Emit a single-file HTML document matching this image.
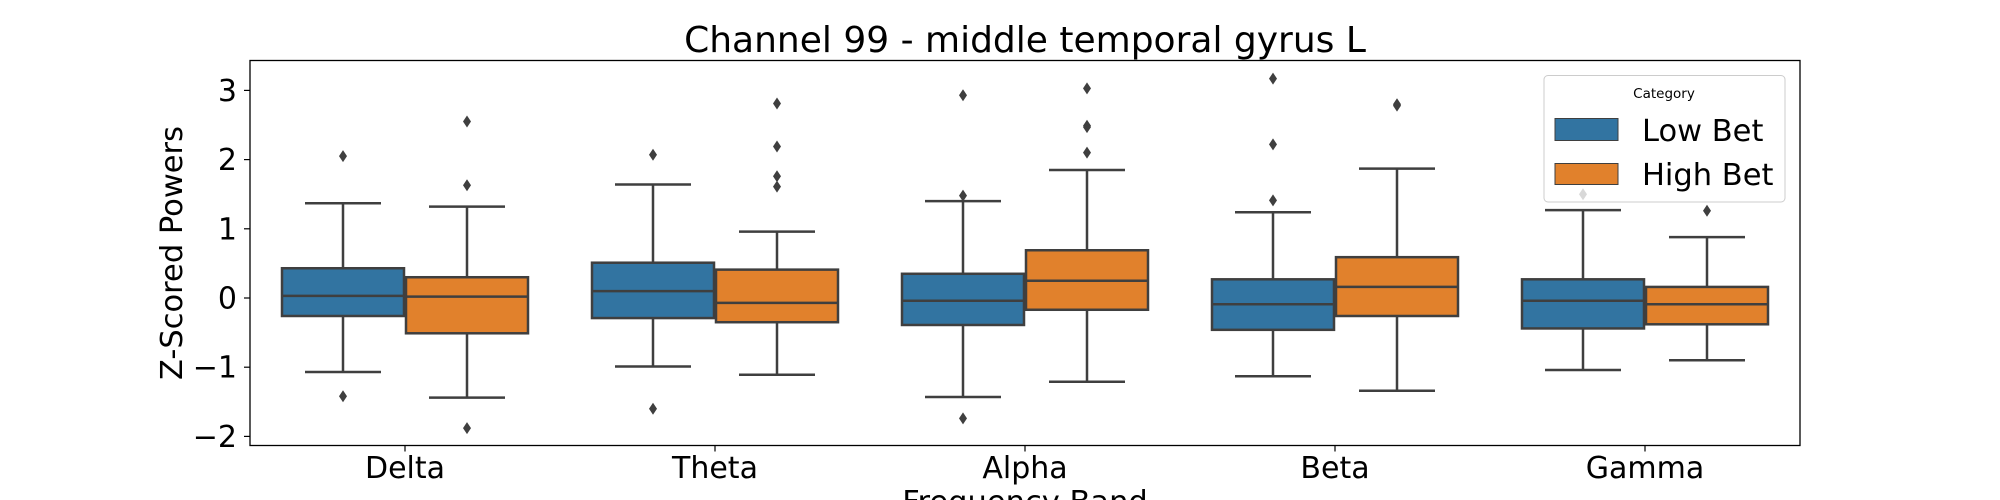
<!DOCTYPE html>
<html><head><meta charset="utf-8"><style>
html,body{margin:0;padding:0;background:#fff;}
svg{display:block;font-family:"DejaVu Sans","Liberation Sans",sans-serif;}
</style></head><body>
<svg id="chart" width="2000" height="500" viewBox="0 0 2000 500" xmlns="http://www.w3.org/2000/svg">
<rect width="2000" height="500" fill="#fff"/>
<text x="1025" y="52" font-size="36" text-anchor="middle" fill="#000">Channel 99 - middle temporal gyrus L</text>
<g id="plot"></g>
<rect x="250" y="60.5" width="1550" height="385" fill="none" stroke="#000" stroke-width="1.3"/>
<text transform="translate(182,253) rotate(-90)" font-size="30.5" text-anchor="middle" fill="#000">Z-Scored Powers</text>
<text x="1025" y="512" font-size="30.5" text-anchor="middle" fill="#000">Frequency Band</text>
<g>
<rect x="1544" y="75.5" width="241" height="126.5" rx="4" fill="#fff" fill-opacity="0.8" stroke="#ccc" stroke-width="1"/>
<text x="1664" y="98" font-size="13.5" text-anchor="middle" fill="#000">Category</text>
<rect x="1555" y="118.5" width="63" height="22" fill="#3274a1" stroke="#3f3f3f" stroke-width="1"/>
<text x="1642" y="141" font-size="30.5" fill="#000">Low Bet</text>
<rect x="1555" y="163.5" width="63" height="21" fill="#e1812c" stroke="#3f3f3f" stroke-width="1"/>
<text x="1642" y="185" font-size="30.5" fill="#000">High Bet</text>
</g>
</svg>
<script>
const categories = ["Delta","Theta","Alpha","Beta","Gamma"];
const seriesNames = ["Low Bet","High Bet"];
const yTicks = [-2,-1,0,1,2,3];
const yTickLabels = ["\u22122","\u22121","0","1","2","3"];
// [whiskerLow, q1, median, q3, whiskerHigh] per category
const lowBetStats = [
  [-1.07,-0.26,0.03,0.43,1.37],
  [-0.99,-0.29,0.10,0.51,1.64],
  [-1.43,-0.39,-0.04,0.35,1.40],
  [-1.13,-0.46,-0.09,0.27,1.24],
  [-1.04,-0.44,-0.04,0.27,1.27]
];
const highBetStats = [
  [-1.44,-0.51,0.02,0.30,1.32],
  [-1.11,-0.35,-0.07,0.41,0.96],
  [-1.21,-0.17,0.25,0.69,1.85],
  [-1.34,-0.26,0.16,0.59,1.87],
  [-0.90,-0.38,-0.09,0.16,0.88]
];
const lowBetOutliers = [[2.05,-1.42],[2.07,-1.60],[2.93,1.48,-1.74],[3.17,2.22,1.41],[1.50]];
const highBetOutliers = [[2.55,1.63,-1.88],[2.81,2.19,1.76,1.61],[3.03,2.49,2.47,2.10],[2.80,2.78],[1.26]];

const NS="http://www.w3.org/2000/svg";
const plot=document.getElementById('plot');
const y0=298, yUnit=69.2;
function yScale(v){return y0 - v*yUnit;}
const plotLeft=250, band=310;
function xCenter(i){return plotLeft + band*(i+0.5);}
const boxW=122, capHalf=38;
const colors=["#3274a1","#e1812c"];
const LC="#3f3f3f";
function mk(tag,attrs){const e=document.createElementNS(NS,tag);for(const k in attrs)e.setAttribute(k,attrs[k]);plot.appendChild(e);return e;}

yTicks.forEach((t,i)=>{
  const y=yScale(t);
  const tk=mk('line',{x1:244,x2:250,y1:y,y2:y,stroke:'#000','stroke-width':1.2});
  
  
  const tl=mk('text',{x:237,y:y+10.5,'font-size':30,'text-anchor':'end',fill:'#000'});
  tl.textContent=yTickLabels[i];
  
  
});
categories.forEach((c,i)=>{
  const x=xCenter(i);
  const tk=mk('line',{x1:x,x2:x,y1:445.5,y2:451.5,stroke:'#000','stroke-width':1.2});
  
  
  const tl=mk('text',{x:x,y:478,'font-size':30,'text-anchor':'middle',fill:'#000'});
  tl.textContent=c;
  
  
});
function drawSeries(stats,outs,s){
  stats.forEach((st,i)=>{
    const left = s===0 ? xCenter(i)-boxW-1 : xCenter(i)+1;
    const cx=left+boxW/2;
    const [wl,q1,md,q3,wh]=st;
    const w1=mk('line',{x1:cx,x2:cx,y1:yScale(wh),y2:yScale(q3),stroke:LC,'stroke-width':2.5});
    
    
    const w2=mk('line',{x1:cx,x2:cx,y1:yScale(q1),y2:yScale(wl),stroke:LC,'stroke-width':2.5});
    
    
    [wh,wl].forEach(v=>{
      const cap=mk('line',{x1:cx-capHalf,x2:cx+capHalf,y1:yScale(v),y2:yScale(v),stroke:LC,'stroke-width':2.5});
      
      
    });
    const b=mk('rect',{x:left,y:yScale(q3),width:boxW,height:yScale(q1)-yScale(q3),fill:colors[s],stroke:LC,'stroke-width':2.5});
    
    
    const m=mk('line',{x1:left,x2:left+boxW,y1:yScale(md),y2:yScale(md),stroke:LC,'stroke-width':2.5});
    
    
    outs[i].forEach(v=>{
      const y=yScale(v);
      const d=mk('path',{d:`M${cx} ${y-6} L${cx+4} ${y} L${cx} ${y+6} L${cx-4} ${y} Z`,fill:LC});
      
      
    });
  });
}
drawSeries(lowBetStats,lowBetOutliers,0);
drawSeries(highBetStats,highBetOutliers,1);
</script>
</body></html>
